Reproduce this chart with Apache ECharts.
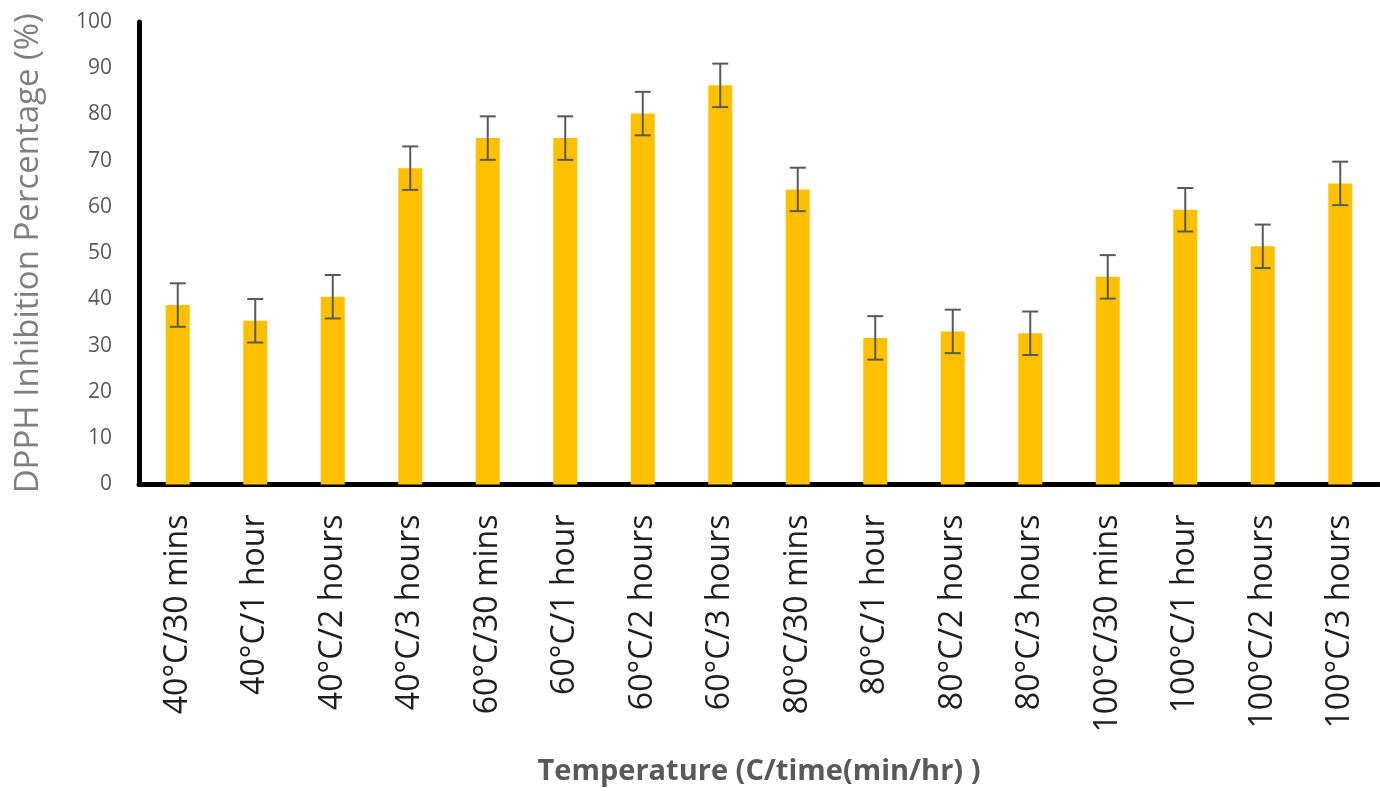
<!DOCTYPE html>
<html>
<head>
<meta charset="utf-8">
<script src="https://cdn.jsdelivr.net/npm/echarts@6/dist/echarts.min.js"></script>
<style>
  html, body { margin: 0; padding: 0; background: #ffffff; }
  #chart { width: 1380px; height: 791px; }
</style>
</head>
<body>
<div id="chart"></div>
<script>
// Treatment conditions (temperature / extraction time)
const categories = [
  '40°C/30 mins', '40°C/1 hour', '40°C/2 hours', '40°C/3 hours',
  '60°C/30 mins', '60°C/1 hour', '60°C/2 hours', '60°C/3 hours',
  '80°C/30 mins', '80°C/1 hour', '80°C/2 hours', '80°C/3 hours',
  '100°C/30 mins', '100°C/1 hour', '100°C/2 hours', '100°C/3 hours'
];

// Mean DPPH inhibition (%)
const inhibition = [
  38.8, 35.4, 40.6, 68.4,
  74.9, 74.9, 80.2, 86.3,
  63.8, 31.7, 33.1, 32.7,
  44.9, 59.4, 51.5, 65.1
];

// Error (± value) for each mean
const errorRange = [
  4.7, 4.7, 4.7, 4.7,
  4.7, 4.7, 4.7, 4.7,
  4.7, 4.7, 4.7, 4.7,
  4.7, 4.7, 4.7, 4.7
];

// Y axis ticks
const yMin = 0, yMax = 100, yStep = 10;

const errorData = inhibition.map((v, i) => [i, v - errorRange[i], v + errorRange[i]]);

const chart = echarts.init(document.getElementById('chart'), null, { renderer: 'canvas' });

chart.setOption({
  backgroundColor: '#ffffff',
  animation: false,
  grid: {
    left: 139, right: 1, top: 22, bottom: 306.5,
    containLabel: false,
    outerBoundsMode: 'none'
  },
  xAxis: {
    type: 'category',
    data: categories,
    axisLine: { show: true, lineStyle: { color: '#000000', width: 5 } },
    axisTick: { show: false },
    axisLabel: {
      rotate: 90,
      margin: 30,
      fontSize: 32,
      fontFamily: 'Open Sans',
      color: '#1f1f1f'
    },
    name: 'Temperature (C/time(min/hr) )',
    nameLocation: 'middle',
    nameGap: 273,
    nameTextStyle: {
      fontSize: 29,
      fontWeight: 'bold',
      fontFamily: 'Open Sans',
      color: '#595959'
    }
  },
  yAxis: {
    type: 'value',
    min: yMin,
    max: yMax,
    interval: yStep,
    axisLine: { show: true, lineStyle: { color: '#000000', width: 5 } },
    axisTick: { show: false },
    splitLine: { show: false },
    axisLabel: {
      margin: 27,
      fontSize: 21,
      fontFamily: 'Open Sans',
      color: '#595959'
    },
    name: 'DPPH Inhibition Percentage (%)',
    nameLocation: 'middle',
    nameGap: 94,
    nameTextStyle: {
      fontSize: 33,
      fontFamily: 'Open Sans',
      color: '#7f7f7f'
    }
  },
  series: [
    {
      type: 'bar',
      data: inhibition,
      barWidth: 24,
      itemStyle: { color: '#FFC000' },
      z: 2
    },
    {
      type: 'custom',
      data: errorData,
      z: 3,
      renderItem: function (params, api) {
        const idx = api.value(0);
        const low = api.coord([idx, api.value(1)]);
        const high = api.coord([idx, api.value(2)]);
        const half = 8;
        const style = { stroke: '#595959', lineWidth: 2 };
        return {
          type: 'group',
          children: [
            { type: 'line', shape: { x1: low[0], y1: low[1], x2: high[0], y2: high[1] }, style: style },
            { type: 'line', shape: { x1: low[0] - half, y1: low[1], x2: low[0] + half, y2: low[1] }, style: style },
            { type: 'line', shape: { x1: high[0] - half, y1: high[1], x2: high[0] + half, y2: high[1] }, style: style }
          ]
        };
      }
    }
  ]
});
</script>
</body>
</html>
